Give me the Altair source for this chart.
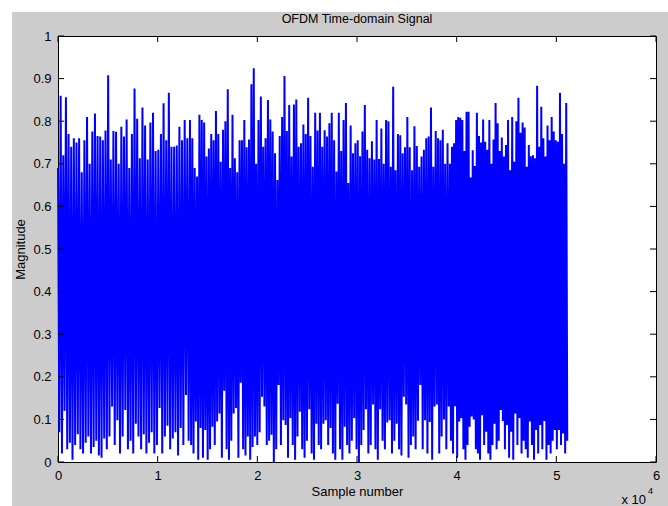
import altair as alt
import pandas as pd

# Upper envelope of |x[n]|: peak magnitude per short block, four stretches of the record
peaks_a = [0.69, 0.86, 0.72, 0.856, 0.77, 0.74, 0.76, 0.75, 0.76, 0.68,
           0.755, 0.81, 0.70, 0.776, 0.818, 0.765, 0.764, 0.755, 0.778, 0.908,
           0.71, 0.777, 0.775, 0.70, 0.787, 0.764, 0.804, 0.69, 0.77, 0.877,
           0.806, 0.713, 0.832, 0.79, 0.71, 0.797, 0.82, 0.73, 0.733, 0.77,
           0.842, 0.755, 0.867, 0.74, 0.74, 0.743, 0.787, 0.755, 0.803, 0.76]
peaks_b = [0.803, 0.76, 0.69, 0.67, 0.815, 0.803, 0.797, 0.717, 0.736, 0.77,
           0.755, 0.824, 0.77, 0.705, 0.78, 0.80, 0.875, 0.69, 0.815, 0.713,
           0.68, 0.755, 0.755, 0.803, 0.739, 0.757, 0.887, 0.924, 0.70, 0.803,
           0.858, 0.74, 0.76, 0.85, 0.804, 0.776, 0.725, 0.662, 0.765, 0.81,
           0.906, 0.777, 0.838, 0.717, 0.839, 0.851, 0.74, 0.748, 0.792, 0.77,
           0.855, 0.765, 0.693, 0.82, 0.778]
peaks_c = [0.82, 0.74, 0.779, 0.764, 0.795, 0.82, 0.755, 0.682, 0.82, 0.73,
           0.803, 0.843, 0.655, 0.79, 0.725, 0.748, 0.755, 0.718, 0.776, 0.838,
           0.733, 0.713, 0.753, 0.71, 0.803, 0.711, 0.783, 0.70, 0.803, 0.80,
           0.693, 0.881, 0.685, 0.77, 0.767, 0.725, 0.739, 0.81, 0.739, 0.685,
           0.788, 0.742, 0.693, 0.717, 0.733, 0.76, 0.764, 0.832, 0.693, 0.777,
           0.76, 0.755, 0.78, 0.70, 0.748]
peaks_d = [0.70, 0.74, 0.748, 0.803, 0.81, 0.808, 0.803, 0.73, 0.822, 0.822,
           0.668, 0.732, 0.695, 0.82, 0.765, 0.75, 0.804, 0.752, 0.733, 0.803,
           0.70, 0.757, 0.843, 0.795, 0.73, 0.762, 0.717, 0.744, 0.803, 0.685,
           0.81, 0.705, 0.80, 0.855, 0.773, 0.797, 0.785, 0.693, 0.744, 0.718,
           0.72, 0.713, 0.883, 0.74, 0.834, 0.76, 0.717, 0.79, 0.755, 0.81,
           0.776, 0.755, 0.752, 0.867, 0.77, 0.70, 0.843]

# Lower envelope: minimum magnitude in the same blocks
dips_a = [0.07, 0.02, 0.12, 0.03, 0.045, 0.005, 0.04, 0.065, 0.03, 0.02,
          0.045, 0.06, 0.02, 0.035, 0.05, 0.015, 0.01, 0.055, 0.03, 0.06,
          0.13, 0.04, 0.098, 0.02, 0.06, 0.122, 0.03, 0.05, 0.02, 0.09,
          0.06, 0.03, 0.065, 0.02, 0.045, 0.07, 0.02, 0.04, 0.127, 0.02,
          0.06, 0.085, 0.03, 0.055, 0.07, 0.015, 0.08, 0.04, 0.157, 0.05]
dips_b = [0.04, 0.02, 0.095, 0.005, 0.08, 0.01, 0.075, 0.005, 0.03, 0.083,
          0.04, 0.095, 0.114, 0.01, 0.167, 0.03, 0.005, 0.05, 0.114, 0.127,
          0.01, 0.186, 0.03, 0.015, 0.06, 0.005, 0.035, 0.06, 0.04, 0.07,
          0.153, 0.13, 0.04, 0.05, 0.064, 0.0, 0.03, 0.181, 0.04, 0.098,
          0.087, 0.01, 0.103, 0.04, 0.005, 0.06, 0.118, 0.03, 0.01, 0.05,
          0.124, 0.02, 0.005, 0.09, 0.04]
dips_c = [0.03, 0.09, 0.098, 0.04, 0.08, 0.02, 0.005, 0.137, 0.03, 0.005,
          0.083, 0.04, 0.02, 0.05, 0.103, 0.03, 0.0, 0.04, 0.075, 0.124,
          0.02, 0.04, 0.135, 0.03, 0.005, 0.124, 0.05, 0.03, 0.093, 0.098,
          0.02, 0.05, 0.09, 0.03, 0.015, 0.153, 0.135, 0.01, 0.04, 0.06,
          0.03, 0.097, 0.181, 0.03, 0.098, 0.02, 0.094, 0.005, 0.13, 0.135,
          0.02, 0.06, 0.1, 0.03, 0.13]
dips_d = [0.05, 0.02, 0.131, 0.01, 0.095, 0.103, 0.03, 0.005, 0.04, 0.083,
          0.107, 0.1, 0.03, 0.02, 0.005, 0.11, 0.04, 0.071, 0.02, 0.005,
          0.04, 0.09, 0.03, 0.05, 0.122, 0.096, 0.03, 0.087, 0.01, 0.071,
          0.005, 0.114, 0.04, 0.103, 0.02, 0.05, 0.03, 0.01, 0.095, 0.04,
          0.005, 0.075, 0.02, 0.087, 0.03, 0.096, 0.005, 0.04, 0.02, 0.05,
          0.075, 0.03, 0.075, 0.04, 0.067, 0.02, 0.05]

# sample numbers where each stretch starts / the record ends
stretch_edges = [0, 13240, 26280, 39320, 51200]

x_ticks = [0, 10000, 20000, 30000, 40000, 50000, 60000]
y_ticks = [0, 0.1, 0.2, 0.3, 0.4, 0.5, 0.6, 0.7, 0.8, 0.9, 1.0]

stretches = [(peaks_a, dips_a), (peaks_b, dips_b), (peaks_c, dips_c), (peaks_d, dips_d)]
rows = []
for s, (hi_vals, lo_vals) in enumerate(stretches):
    start, stop = stretch_edges[s], stretch_edges[s + 1]
    block = (stop - start) / len(hi_vals)
    for i, (hi, lo) in enumerate(zip(hi_vals, lo_vals)):
        rows.append({"n": start + i * block, "mag": hi})
        rows.append({"n": start + (i + 0.5) * block, "mag": lo})
signal = pd.DataFrame(rows)
signal["k"] = range(len(signal))

W, H = 598, 426
FONT = "Liberation Sans"

x_scale = alt.Scale(domain=[0, 60000], nice=False, zero=False)
y_scale = alt.Scale(domain=[0, 1], nice=False)

line = alt.Chart(signal).mark_line(color="#0000ff", strokeWidth=2.0).encode(
    x=alt.X("n:Q", scale=x_scale,
            axis=alt.Axis(values=x_ticks, labelExpr="datum.value / 10000",
                          title="Sample number", grid=False, ticks=False,
                          domain=False, labelPadding=7, titlePadding=3,
                          labelFlush=False)),
    y=alt.Y("mag:Q", scale=y_scale,
            axis=alt.Axis(values=y_ticks, format="~g", title="Magnitude",
                          grid=False, ticks=False, domain=False,
                          labelPadding=7, titlePadding=5, labelFlush=False)),
    order="k:Q",
)

# inward tick marks on all four sides of the box
xt = pd.DataFrame({"t": x_ticks})
yt = pd.DataFrame({"t": y_ticks})
tick_style = dict(color="black", strokeWidth=1)
xb = alt.Chart(xt).mark_rule(**tick_style).encode(
    x=alt.X("t:Q", scale=x_scale), y=alt.value(H), y2=alt.value(H - 6))
xtop = alt.Chart(xt).mark_rule(**tick_style).encode(
    x=alt.X("t:Q", scale=x_scale), y=alt.value(0), y2=alt.value(6))
yl = alt.Chart(yt).mark_rule(**tick_style).encode(
    y=alt.Y("t:Q", scale=y_scale), x=alt.value(0), x2=alt.value(6))
yr = alt.Chart(yt).mark_rule(**tick_style).encode(
    y=alt.Y("t:Q", scale=y_scale), x=alt.value(W), x2=alt.value(W - 6))

# plot title above the box
title = alt.Chart(pd.DataFrame({"s": ["OFDM Time-domain Signal"]})).mark_text(
    font=FONT, fontSize=12.5, align="center", baseline="middle", color="black"
).encode(text="s:N", x=alt.value(W / 2), y=alt.value(-17))

# axis exponent label under the right end of the x axis
exp_base = alt.Chart(pd.DataFrame({"s": ["x 10"]})).mark_text(
    font=FONT, fontSize=13, align="right", baseline="middle", color="black"
).encode(text="s:N", x=alt.value(W - 10), y=alt.value(H + 38))
exp_pow = alt.Chart(pd.DataFrame({"s": ["4"]})).mark_text(
    font=FONT, fontSize=9, align="left", baseline="middle", color="black"
).encode(text="s:N", x=alt.value(W - 8), y=alt.value(H + 29))

# white margin around the grey figure
margin = alt.Chart(pd.DataFrame({"a": [0]})).mark_rect(color="white").encode(
    x=alt.value(-58), x2=alt.value(-46), y=alt.value(-36), y2=alt.value(H + 44))
margin_top = alt.Chart(pd.DataFrame({"a": [0]})).mark_rect(color="white").encode(
    x=alt.value(-58), x2=alt.value(W + 12), y=alt.value(-36), y2=alt.value(-24))

chart = alt.layer(margin, margin_top, line, xb, xtop, yl, yr, title,
                  exp_base, exp_pow).properties(
    width=W, height=H,
    background="#cccccc",
    padding={"left": 58, "top": 36, "right": 12, "bottom": 44},
    autosize=alt.AutoSizeParams(type="none"),
).configure_view(
    fill="white", stroke="black", strokeWidth=1
).configure_axis(
    labelFont=FONT, labelFontSize=13, labelColor="black",
    titleFont=FONT, titleFontSize=13, titleFontWeight="normal", titleColor="black",
)

chart.save("out.html", embed_options={"renderer": "svg", "actions": False})
